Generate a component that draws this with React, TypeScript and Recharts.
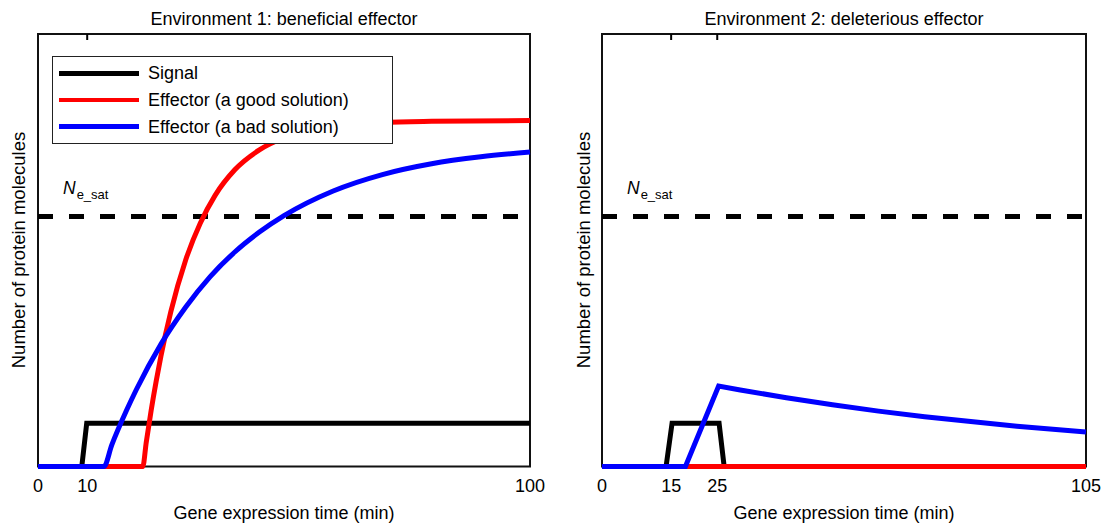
import React from "react"
import { LineChart, Line, XAxis, YAxis, ReferenceArea, ReferenceLine, Legend } from "recharts"

const FONT = '"Liberation Sans", Arial, Helvetica, sans-serif'

// Environment 1: beneficial effector (time in min, molecules in arbitrary units 0-100)
const signalTime1 = [0, 8.9, 9.9, 100]
const signalValue1 = [0, 0, 10, 10]
const goodTime1 = [0, 21.3, 22, 23, 24, 25, 27, 30, 33, 36, 40, 45, 50, 60, 70, 80, 100]
const goodValue1 = [0, 0, 5.6, 13, 19.6, 25.6, 35.8, 47.7, 56.3, 62.7, 68.6, 73.2, 76, 78.6, 79.5, 79.8, 80]
const badTime1 = [0, 13.4, 15, 18, 20, 25, 30, 35, 40, 45, 50, 60, 70, 80, 90, 100]
const badValue1 = [0, 0, 5, 13, 17.8, 28.3, 36.8, 43.9, 49.6, 54.2, 58, 63.7, 67.5, 70, 71.6, 72.7]

// Environment 2: deleterious effector
const signalTime2 = [0, 13.9, 15.2, 25.4, 26.5, 105]
const signalValue2 = [0, 0, 10, 10, 0, 0]
const goodTime2 = [0, 105]
const goodValue2 = [0, 0]
const badTime2 = [0, 18.1, 25.3, 30, 40, 50, 60, 70, 80, 90, 105]
const badValue2 = [0, 0, 18.6, 17.7, 15.9, 14.3, 12.8, 11.5, 10.4, 9.3, 8.0]

const ticks1 = [0, 10, 100]
const ticks2 = [0, 15, 25, 105]
const nSat = 57.8

const titles = ["Environment 1: beneficial effector", "Environment 2: deleterious effector"]
const xLabel = "Gene expression time (min)"
const yLabel = "Number of protein molecules"

const legendItems = [
  { label: "Signal", color: "#000000" },
  { label: "Effector (a good solution)", color: "#ff0000" },
  { label: "Effector (a bad solution)", color: "#0000ff" },
]

const toPoints = (ts: number[], vs: number[]) => ts.map((t, i) => ({ t, n: vs[i] }))

const NSatLabel = (props: any) => {
  const vb = props.viewBox || {}
  return (
    <text x={vb.x + 25} y={vb.y - 23} fontFamily={FONT} fill="#000">
      <tspan fontSize={17.5} fontStyle="italic">N</tspan>
      <tspan fontSize={13} dy={5} dx={1}>e_sat</tspan>
    </text>
  )
}

// small inward tick mark hanging from the top of the frame
const TopTick = (props: any) => (
  <line x1={props.x} x2={props.x} y1={props.y} y2={props.y + 6} stroke="#000" strokeWidth={2} />
)

const LegendBox = () => (
  <div
    style={{
      width: 341,
      height: 88,
      boxSizing: "border-box",
      border: "1.5px solid #222",
      background: "#fff",
      paddingTop: 3,
      fontFamily: FONT,
      fontSize: 18,
    }}
  >
    {legendItems.map((item) => (
      <div key={item.label} style={{ display: "flex", alignItems: "center", height: 26.7 }}>
        <span style={{ display: "inline-block", width: 80, height: 4.5, background: item.color, marginLeft: 6, marginRight: 9 }} />
        <span style={{ color: "#000", lineHeight: "20px", whiteSpace: "nowrap" }}>{item.label}</span>
      </div>
    ))}
  </div>
)

interface PanelProps {
  width: number
  left: number
  right: number
  xMax: number
  ticks: number[]
  signal: { t: number; n: number }[]
  good: { t: number; n: number }[]
  bad: { t: number; n: number }[]
  showLegend?: boolean
}

const Panel = ({ width, left, right, xMax, ticks, signal, good, bad, showLegend }: PanelProps) => {
  const innerTicks = ticks.filter((t) => t > 0 && t < xMax)
  return (
    <LineChart width={width} height={524} margin={{ top: 33, left, right, bottom: 27.5 }}>
      <XAxis
        xAxisId="bottom"
        type="number"
        dataKey="t"
        domain={[0, xMax]}
        ticks={ticks}
        height={30}
        axisLine={false}
        tickLine={false}
        tickSize={0}
        tickMargin={12.5}
        tick={{ fill: "#000", fontSize: 18, fontFamily: FONT }}
        interval={0}
      />
      <XAxis
        xAxisId="top"
        orientation="top"
        type="number"
        dataKey="t"
        domain={[0, xMax]}
        ticks={innerTicks}
        height={1}
        axisLine={false}
        tickLine={false}
        tickSize={0}
        tickMargin={0}
        tick={<TopTick />}
        interval={0}
      />
      <YAxis yAxisId="y" type="number" domain={[0, 100]} hide />
      <ReferenceArea
        xAxisId="bottom"
        yAxisId="y"
        x1={0}
        x2={xMax}
        y1={0}
        y2={100}
        fill="none"
        fillOpacity={0}
        stroke="#111"
        strokeWidth={2}
      />
      <ReferenceLine
        xAxisId="bottom"
        yAxisId="y"
        y={nSat}
        stroke="#000"
        strokeWidth={5}
        strokeDasharray="15 16"
        label={<NSatLabel />}
      />
      <Line
        xAxisId="top"
        yAxisId="y"
        data={signal}
        dataKey="n"
        type="linear"
        stroke="#000000"
        strokeWidth={5}
        dot={false}
        activeDot={false}
        isAnimationActive={false}
      />
      <Line
        xAxisId="bottom"
        yAxisId="y"
        data={good}
        dataKey="n"
        type="monotone"
        stroke="#ff0000"
        strokeWidth={5}
        dot={false}
        activeDot={false}
        isAnimationActive={false}
      />
      <Line
        xAxisId="bottom"
        yAxisId="y"
        data={bad}
        dataKey="n"
        type={showLegend ? "monotone" : "linear"}
        stroke="#0000ff"
        strokeWidth={5}
        dot={false}
        activeDot={false}
        isAnimationActive={false}
      />
      {showLegend && (
        <Legend
          layout="vertical"
          align="center"
          verticalAlign="middle"
          content={<LegendBox />}
          wrapperStyle={{ left: 52, top: 56, width: "auto", height: "auto" }}
        />
      )}
    </LineChart>
  )
}

export default function App() {
  return (
    <div style={{ position: "absolute", left: 0, top: 0, width: 1104, height: 524, background: "#fff" }}>
      <div style={{ position: "absolute", left: 0, top: 0 }}>
        <Panel
          width={560}
          left={38}
          right={30}
          xMax={100}
          ticks={ticks1}
          signal={toPoints(signalTime1, signalValue1)}
          good={toPoints(goodTime1, goodValue1)}
          bad={toPoints(badTime1, badValue1)}
          showLegend
        />
      </div>
      <div style={{ position: "absolute", left: 560, top: 0 }}>
        <Panel
          width={544}
          left={42}
          right={18}
          xMax={105}
          ticks={ticks2}
          signal={toPoints(signalTime2, signalValue2)}
          good={toPoints(goodTime2, goodValue2)}
          bad={toPoints(badTime2, badValue2)}
        />
      </div>
      <svg
        width={1104}
        height={524}
        style={{ position: "absolute", left: 0, top: 0, pointerEvents: "none" }}
        fontFamily={FONT}
        fontSize={18}
      >
        <text x={284} y={24.5} textAnchor="middle">{titles[0]}</text>
        <text x={844} y={24.5} textAnchor="middle">{titles[1]}</text>
        <text x={284} y={519} textAnchor="middle">{xLabel}</text>
        <text x={844} y={519} textAnchor="middle">{xLabel}</text>
        <text transform="translate(24.5,250) rotate(-90)" textAnchor="middle" fontSize={18.5}>{yLabel}</text>
        <text transform="translate(589.5,250) rotate(-90)" textAnchor="middle" fontSize={18.5}>{yLabel}</text>
      </svg>
    </div>
  )
}
